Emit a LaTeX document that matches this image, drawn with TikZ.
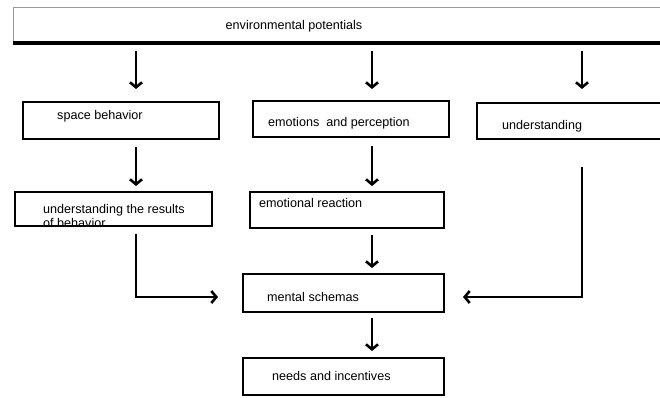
\documentclass[tikz,border=0pt]{standalone}
\usepackage{fontspec}
\setmainfont{Liberation Sans}
\usepackage{tikz}
\usetikzlibrary{positioning, arrows.meta}

\begin{document}
\begin{tikzpicture}[
        x=1pt, y=-1pt,
        box/.style={draw, line width=2.6pt, inner sep=0pt, outer sep=0pt, anchor=north west},
        txt/.style={inner sep=0pt, anchor=west, align=left, font=\fontsize{12.6}{14}\selectfont},
        arr/.style={line width=2.6pt, -{Straight Barb[length=5pt,width=12pt]}}
      ]
      \useasboundingbox (0,0) rectangle (660,397);

      \coordinate (c1) at (136,0);
      \coordinate (c2) at (372,0);
      \coordinate (c3) at (582,0);

      \node[draw=black!40, line width=1pt, inner sep=0pt, anchor=north west,
            minimum width=700pt, minimum height=35pt] (env) at (13,7) {};
      \draw[line width=3.5pt] (env.south west) -- (env.south east);
      \node[txt, anchor=center] (envt) at (294,26) {environmental potentials};

      \node[box, minimum width=196pt, minimum height=37pt] (sb) at (23,102) {};
      \node[box, minimum width=196pt, minimum height=36pt] (ep) at (253,101) {};
      \node[box, minimum width=250pt, minimum height=36pt] (und) at (477,103) {};
      \node[box, minimum width=197pt, minimum height=34pt] (ur) at (15,192) {};
      \node[box, minimum width=194pt, minimum height=36pt] (er) at (250,192) {};
      \node[box, minimum width=201pt, minimum height=38pt] (ms) at (243,274) {};
      \node[box, minimum width=201pt, minimum height=37pt] (ni) at (243,358) {};

      \node[txt] (sbt) at (57,116) {space behavior};
      \node[txt] (ept) at (268,123) {emotions\ \ and perception};
      \node[txt] (undt) at (502,126) {understanding};
      \node[txt] (urt) at (43,216) {understanding the results\\of behavior};
      \node[txt] (ert) at (259,203) {emotional reaction};
      \node[txt] (mst) at (267,297) {mental schemas};
      \node[txt] (nit) at (272,376) {needs and incentives};

      \draw[arr, shorten <=8pt, shorten >=13pt] (env.south -| c1) -- (sb.north -| c1);
      \draw[arr, shorten <=8pt, shorten >=12pt] (env.south -| c2) -- (ep.north -| c2);
      \draw[arr, shorten <=8pt, shorten >=14pt] (env.south -| c3) -- (und.north -| c3);
      \draw[arr, shorten <=8pt, shorten >=6pt] (sb.south -| c1) -- (ur.north -| c1);
      \draw[arr, shorten <=9pt, shorten >=6pt] (ep.south -| c2) -- (er.north -| c2);
      \draw[arr, shorten <=7pt, shorten >=6pt] (er.south -| c2) -- (ms.north -| c2);
      \draw[arr, shorten <=6pt, shorten >=7pt] (ms.south -| c2) -- (ni.north -| c2);

      \coordinate (uend) at (582,167);
      \draw[arr, shorten <=8pt] (ur.south -| c1) |- ([xshift=-25pt,yshift=-4pt]ms.west);
      \draw[arr] (uend) |- ([xshift=19pt,yshift=-4pt]ms.east);
    \end{tikzpicture}
\end{document}
